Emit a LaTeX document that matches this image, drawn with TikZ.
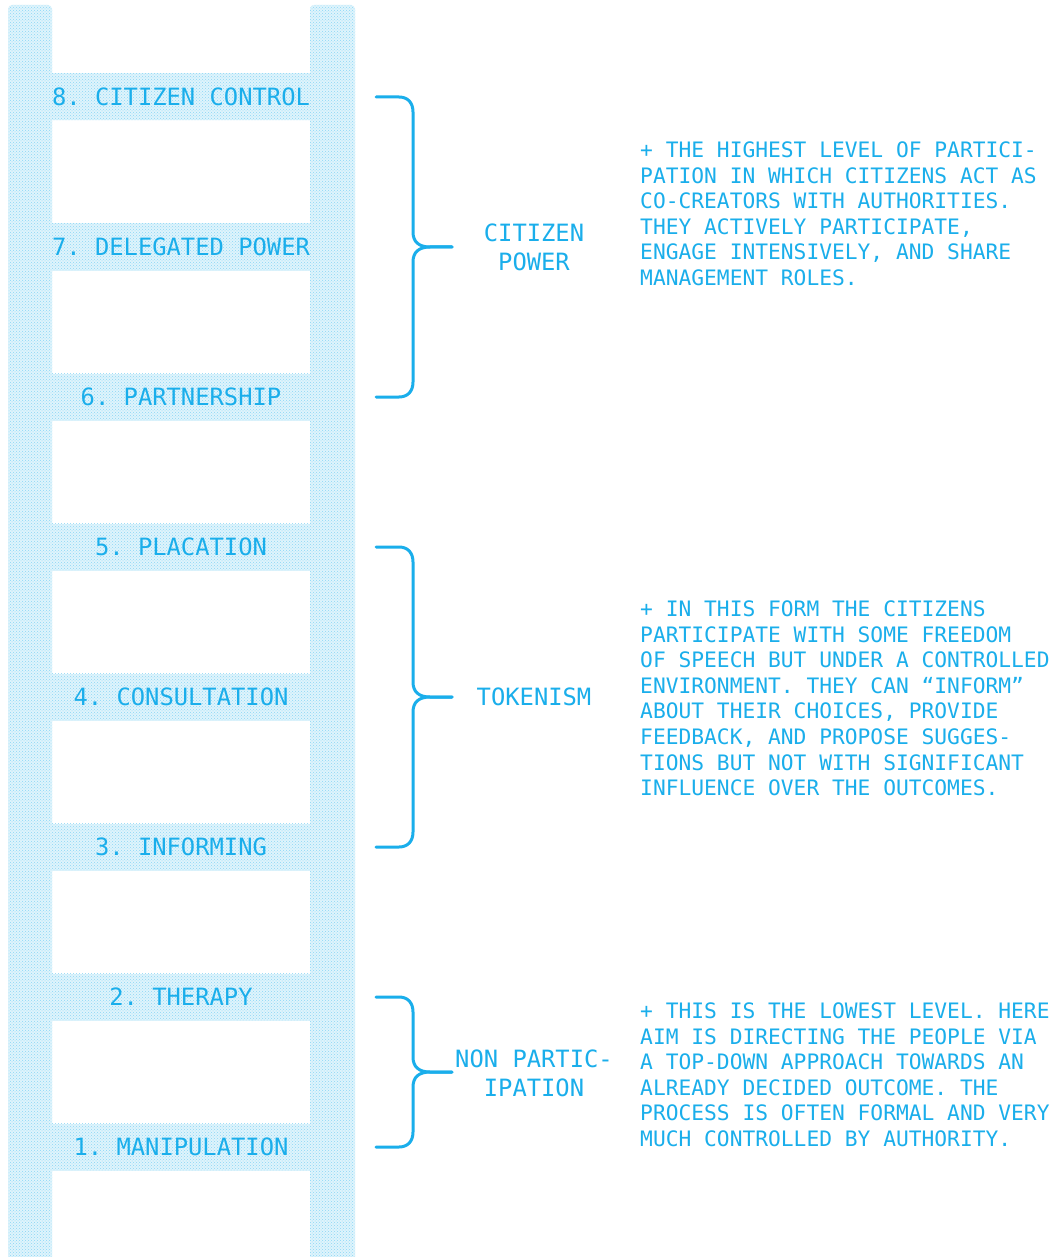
\documentclass[tikz,border=0pt]{standalone}
\usepackage{fontspec}
\newfontfamily\monof{DejaVu Sans Mono}
\usetikzlibrary{patterns}
\definecolor{ink}{HTML}{1AAEEB}
\frenchspacing
\tikzset{
  ladderpart/.style={fill=ink!14},
  ladderdots/.style={pattern=crosshatch dots, pattern color=ink!50},
  rung label/.style={font=\monof\frenchspacing\fontsize{23.8}{29}\selectfont, text=ink, inner sep=0pt, anchor=base},
  group label/.style={font=\monof\frenchspacing\fontsize{23.8}{29}\selectfont, text=ink, inner sep=0pt, align=center, anchor=center},
  desc/.style={font=\monof\frenchspacing\fontsize{21.25}{25.6}\selectfont, text=ink, inner sep=0pt, align=left, anchor=north west},
  bracestroke/.style={draw=ink, line width=3pt, line cap=round, line join=round}
}
\begin{document}
\begin{tikzpicture}[x=1pt,y=-1pt]
\useasboundingbox[fill=white] (0,0) rectangle (1063,1257);
% ladder
\foreach \style in {ladderpart,ladderdots}{
  \path[\style] (8,1262) [rounded corners=4pt] -- (8,5) -- (52,5) [sharp corners] -- (52,1262) -- cycle;
  \path[\style] (310,1262) [rounded corners=4pt] -- (310,5) -- (355,5) [sharp corners] -- (355,1262) -- cycle;
  \foreach \c in {97,247,397,547,697,847,997,1147}{
    \path[\style] (52,\c-23.5) rectangle (310,\c+23.5);
  }
}
% rung labels
\node[rung label] (r8) at (181,97+8.6) {8. CITIZEN CONTROL};
\node[rung label] (r7) at (181,247+8.6) {7. DELEGATED POWER};
\node[rung label] (r6) at (181,397+8.6) {6. PARTNERSHIP};
\node[rung label] (r5) at (181,547+8.6) {5. PLACATION};
\node[rung label] (r4) at (181,697+8.6) {4. CONSULTATION};
\node[rung label] (r3) at (181,847+8.6) {3. INFORMING};
\node[rung label] (r2) at (181,997+8.6) {2. THERAPY};
\node[rung label] (r1) at (181,1147+8.6) {1. MANIPULATION};
% braces
\foreach \t/\m/\b/\nm in {97/247/397/a, 547/697/847/b, 997/1072/1147/c}{
  \coordinate (top\nm) at (376,\t);
  \coordinate (tip\nm) at (452,\m);
  \coordinate (bot\nm) at (376,\b);
  \draw[bracestroke] (top\nm) -- (399,\t) .. controls (408,\t) and (413,\t+6) .. (413,\t+15)
     -- (413,\m-15) .. controls (413,\m-5) and (419,\m) .. (430,\m) -- (tip\nm);
  \draw[bracestroke] (tip\nm) -- (430,\m) .. controls (419,\m) and (413,\m+5) .. (413,\m+15)
     -- (413,\b-15) .. controls (413,\b-6) and (408,\b) .. (399,\b) -- (bot\nm);
}
% group labels
\node[group label] (g1) at (534,247) {CITIZEN\\POWER};
\node[group label] (g2) at (534,697) {TOKENISM};
\node[group label] (g3) at (534,1073) {NON PARTIC-\\IPATION};
% descriptions
\node[desc] (d1) at (640,141.5) {+ THE HIGHEST LEVEL OF PARTICI-\\PATION IN WHICH CITIZENS ACT AS\\CO-CREATORS WITH AUTHORITIES.\\THEY ACTIVELY PARTICIPATE,\\ENGAGE INTENSIVELY, AND SHARE\\MANAGEMENT ROLES.};
\node[desc] (d2) at (640,600.5) {+ IN THIS FORM THE CITIZENS\\PARTICIPATE WITH SOME FREEDOM\\OF SPEECH BUT UNDER A CONTROLLED\\ENVIRONMENT. THEY CAN “INFORM”\\ABOUT THEIR CHOICES, PROVIDE\\FEEDBACK, AND PROPOSE SUGGES-\\TIONS BUT NOT WITH SIGNIFICANT\\INFLUENCE OVER THE OUTCOMES.};
\node[desc] (d3) at (640,1002.5) {+ THIS IS THE LOWEST LEVEL. HERE\\AIM IS DIRECTING THE PEOPLE VIA\\A TOP-DOWN APPROACH TOWARDS AN\\ALREADY DECIDED OUTCOME. THE\\PROCESS IS OFTEN FORMAL AND VERY\\MUCH CONTROLLED BY AUTHORITY.};
\end{tikzpicture}
\end{document}
